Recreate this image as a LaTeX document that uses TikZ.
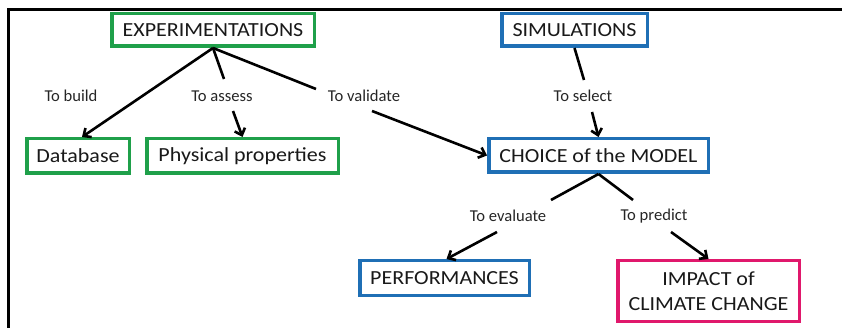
\documentclass[tikz,border=0pt]{standalone}
\usepackage{fontspec}
\setmainfont[FakeStretch=1.1]{Carlito}
\newfontfamily\labfont{Carlito}
\usetikzlibrary{arrows.meta}
\definecolor{bgreen}{HTML}{1FA04A}
\definecolor{bblue}{HTML}{1F6FB5}
\definecolor{bpink}{HTML}{E0186C}
\begin{document}
\begin{tikzpicture}[x=1pt,y=-1pt,
  box/.style={draw,line width=3.5pt,fill=white,inner sep=0pt,align=center,
    font=\fontsize{20}{25}\selectfont,text=black!90},
  lab/.style={inner sep=0pt,font=\labfont\fontsize{16.6}{19}\selectfont,text=black!85},
  conn/.style={line width=2.6pt,black},
  arr/.style={conn,-{Straight Barb[length=6pt,width=11pt]}}]
\useasboundingbox (0,0) rectangle (842,328);
\draw[line width=3pt] (8,328) -- (8,10) -- (842,10);

\node[box,draw=bgreen,minimum width=202.5pt,minimum height=32.5pt] (exp) at (213,30) {EXPERIMENTATIONS};
\node[box,draw=bgreen,minimum width=102.5pt,minimum height=34.5pt] (db) at (78,156) {Database};
\node[box,draw=bgreen,minimum width=191.5pt,minimum height=34.5pt] (phys) at (242.5,156) {Physical properties};
\node[box,draw=bblue,minimum width=145.5pt,minimum height=32.5pt] (sim) at (574.5,30) {SIMULATIONS};
\node[box,draw=bblue,minimum width=219.5pt,minimum height=33.5pt] (choice) at (598.5,155.5) {CHOICE of the MODEL};
\node[box,draw=bblue,minimum width=169.5pt,minimum height=34.5pt] (perf) at (444.5,278) {PERFORMANCES};
\node[box,draw=bpink,minimum width=181.5pt,minimum height=60.5pt] (impact) at (708.5,291) {IMPACT of\\CLIMATE CHANGE};

\node[lab] (build) at (71,96) {To build};
\node[lab] (assess) at (222,96) {To assess};
\node[lab] (validate) at (364,96) {To validate};
\node[lab] (select) at (583,96) {To select};
\node[lab] (evaluate) at (508,216) {To evaluate};
\node[lab] (predict) at (654,216) {To predict};

\coordinate (a1) at (224,79);  \coordinate (a2) at (233,111);
\coordinate (v1) at (316,89);  \coordinate (v2) at (372,111);
\coordinate (s1) at (584,80);  \coordinate (s2) at (592,112);
\coordinate (e1) at (551,200); \coordinate (e2) at (497,232);
\coordinate (p1) at (633,200); \coordinate (p2) at (671,232);

\draw[arr] (exp.south) -- ([xshift=4pt]db.north);
\draw[conn] (exp.south) -- (a1);
\draw[arr] (a2) -- (phys.north);
\draw[conn] (exp.south) -- (v1);
\draw[arr] (v2) -- (choice.west);
\draw[conn] (sim.south) -- (s1);
\draw[arr] (s2) -- (choice.north);
\draw[conn] (choice.south) -- (e1);
\draw[arr] (e2) -- ([xshift=2pt]perf.north);
\draw[conn] (choice.south) -- (p1);
\draw[arr] (p2) -- (impact.north);
\end{tikzpicture}
\end{document}
